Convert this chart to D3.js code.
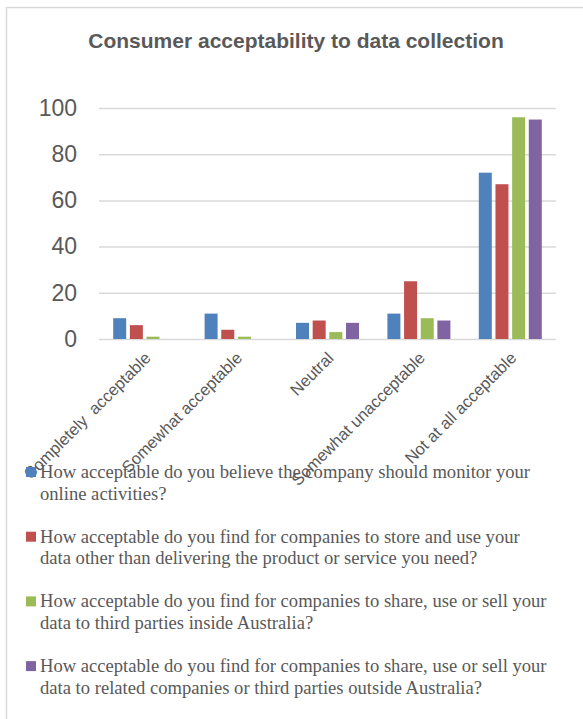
<!DOCTYPE html>
<html>
<head>
<meta charset="utf-8">
<script src="https://cdn.jsdelivr.net/npm/d3@7"></script>
<style>
  html, body { margin: 0; padding: 0; background: #ffffff; }
  svg { display: block; }
</style>
</head>
<body>
<svg id="chart" width="583" height="719"></svg>
<script>
// Response categories along the x axis
const categories = ["Completely  acceptable", "Somewhat acceptable", "Neutral", "Somewhat unacceptable", "Not at all acceptable"];

// One array per survey question (respondent counts)
const monitorOnline   = [9, 11, 7, 11, 72];
const storeAndUse     = [6, 4, 8, 25, 67];
const shareInsideAus  = [1, 1, 3, 9, 96];
const shareOutsideAus = [0, 0, 7, 8, 95];

// Legend text, already wrapped into lines
const seriesLabels = [
  ["How acceptable do you believe the company should monitor your", "online activities?"],
  ["How acceptable do you find for companies to store and use your", "data other than delivering the product or service you need?"],
  ["How acceptable do you find for companies to share, use or sell your", "data to third parties inside Australia?"],
  ["How acceptable do you find for companies to share, use or sell your", "data to related companies or third parties outside Australia?"]
];

const yTicks = [0, 20, 40, 60, 80, 100];
const seriesColors = ["#4f81bd", "#c0504d", "#9bbb59", "#8064a2"];

const seriesValues = [monitorOnline, storeAndUse, shareInsideAus, shareOutsideAus];
const seriesKeys = d3.range(seriesValues.length);

const svg = d3.select("#chart");
const textGray = "#595959";

// Chart frame
svg.append("rect")
  .attr("x", 6.5).attr("y", 7.5)
  .attr("width", 620).attr("height", 760)
  .attr("fill", "#ffffff")
  .attr("stroke", "#d9d9d9")
  .attr("stroke-width", 1.5);

// Title
svg.append("text")
  .attr("x", 296).attr("y", 48)
  .attr("text-anchor", "middle")
  .attr("font-family", "'Liberation Sans', Arial, sans-serif")
  .attr("font-weight", "bold")
  .attr("font-size", 21)
  .attr("fill", textGray)
  .text("Consumer acceptability to data collection");

const plot = { left: 99, right: 556, top: 108, bottom: 339 };

const x0 = d3.scaleBand().domain(categories).range([plot.left, plot.right]).padding(0);
const groupWidth = 63;
const x1 = d3.scaleBand().domain(seriesKeys).range([0, groupWidth]).paddingInner(0.22).paddingOuter(0);
const y = d3.scaleLinear().domain([0, 100]).range([plot.bottom, plot.top]);

// Gridlines and value labels
const yAxis = d3.axisLeft(y).tickValues(yTicks).tickSize(-(plot.right - plot.left)).tickPadding(22);
const gy = svg.append("g").attr("transform", `translate(${plot.left},0)`).call(yAxis);
gy.select(".domain").remove();
gy.selectAll(".tick line").attr("stroke", "#d9d9d9").attr("stroke-width", 1.5);
gy.selectAll(".tick text")
  .attr("font-family", "'Liberation Sans', Arial, sans-serif")
  .attr("font-size", 23)
  .attr("fill", textGray);

// Bars
const groups = svg.append("g").selectAll("g")
  .data(categories)
  .join("g")
  .attr("transform", d => `translate(${x0(d) + (x0.bandwidth() - groupWidth) / 2},0)`);

groups.selectAll("rect")
  .data((d, i) => seriesKeys.map(k => ({ k, v: seriesValues[k][i] })))
  .join("rect")
  .attr("x", d => x1(d.k))
  .attr("width", x1.bandwidth())
  .attr("y", d => y(d.v))
  .attr("height", d => y(0) - y(d.v))
  .attr("fill", d => seriesColors[d.k]);

// Category labels, rotated
const xAxis = d3.axisBottom(x0).tickSize(0).tickPadding(0);
const gx = svg.append("g").attr("transform", `translate(0,${plot.bottom})`).call(xAxis);
gx.select(".domain").remove();
gx.selectAll(".tick text")
  .attr("font-family", "'Liberation Sans', Arial, sans-serif")
  .attr("font-size", 16.5)
  .attr("fill", textGray)
  .attr("text-anchor", "end")
  .attr("dy", "0.35em")
  .style("white-space", "pre")
  .attr("transform", "translate(3,16) rotate(-45)");

// Legend
const legend = svg.append("g");
const entryTop = 478, entryStep = 64.7, lineStep = 21.5;
seriesLabels.forEach((lines, i) => {
  const base = entryTop + i * entryStep;
  legend.append("rect")
    .attr("x", 26).attr("y", base - 11)
    .attr("width", 10).attr("height", 10)
    .attr("fill", seriesColors[i]);
  const t = legend.append("text")
    .attr("font-family", "'Liberation Serif', 'Times New Roman', serif")
    .attr("font-size", 18.6)
    .attr("fill", textGray);
  lines.forEach((ln, j) => {
    t.append("tspan").attr("x", 40).attr("y", base + j * lineStep).text(ln);
  });
});
</script>
</body>
</html>
